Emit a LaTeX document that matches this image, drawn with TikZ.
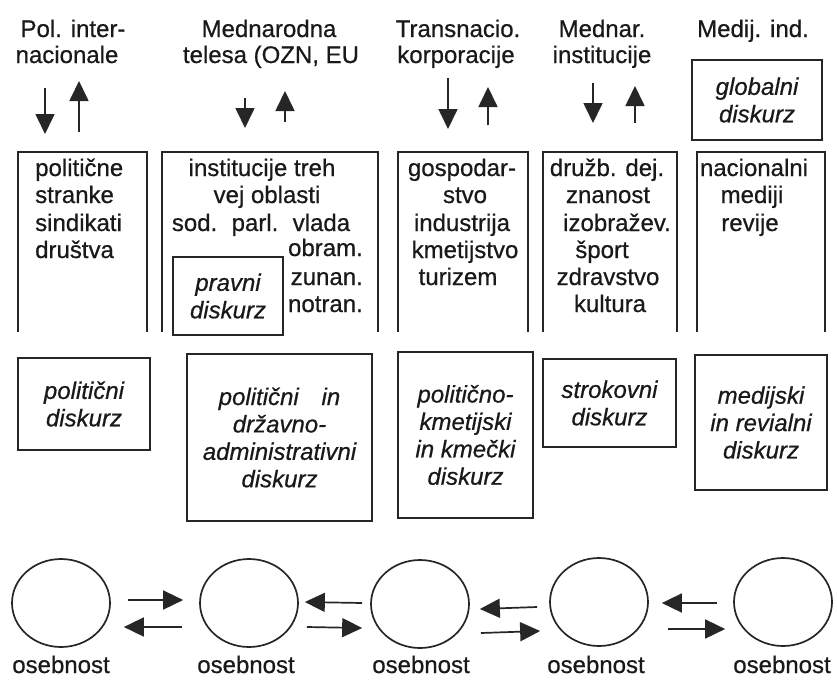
\documentclass[tikz,border=0pt]{standalone}
\usepackage{fontspec}
\setmainfont{Liberation Sans}
\usetikzlibrary{arrows.meta,shapes.geometric,calc}
\newcommand\fsz{\fontsize{24}{27.4}\selectfont\addfontfeatures{FakeBold=0.6}}
\begin{document}
\begin{tikzpicture}[x=1pt,y=-1pt,
  ln/.style={line width=1.7pt, draw=black!85},
  arr/.style={ln, -{Triangle[length=20pt,width=19pt]}},
  txt/.style={font=\fsz, anchor=base, inner sep=0pt, text=black!90},
  dbox/.style={ln, font=\itshape\fsz, align=center, inner sep=0pt, text=black!90},
  pers/.style={ln, ellipse, minimum width=98pt, minimum height=88pt, inner sep=0pt}]
\useasboundingbox[fill=white] (0,0) rectangle (837,680);

% top labels
\node[txt] (t1a) at (73,37) {Pol. inter-};
\node[txt] (t1b) at (67,63) {nacionale};
\node[txt] (t2a) at (269,37) {Mednarodna};
\node[txt] (t2b) at (271,63) {telesa (OZN, EU};
\node[txt] (t3a) at (458,37) {Transnacio.};
\node[txt] (t3b) at (456,63) {korporacije};
\node[txt] (t4a) at (602,37) {Mednar.};
\node[txt] (t4b) at (602,63) {institucije};
\node[txt] (t5a) at (753,37) {Medij. ind.};
\node[dbox, minimum width=130pt, minimum height=80pt] (glob) at (757,100) {globalni\\diskurz};

% vertical arrows
\coordinate (a1d) at (45,88);  \coordinate (a1e) at (45,134);
\coordinate (a1u) at (79,132); \coordinate (a1v) at (79,81);
\coordinate (a2d) at (245,98); \coordinate (a2e) at (245,128);
\coordinate (a2u) at (285,122); \coordinate (a2v) at (285,91);
\coordinate (a3d) at (448,78); \coordinate (a3e) at (448,129);
\coordinate (a3u) at (488,125); \coordinate (a3v) at (488,87);
\coordinate (a4d) at (593,83); \coordinate (a4e) at (593,123);
\coordinate (a4u) at (635,123); \coordinate (a4v) at (635,86);
\draw[arr] (a1d) -- (a1e);
\draw[arr] (a1u) -- (a1v);
\draw[arr] (a2d) -- (a2e);
\draw[arr] (a2u) -- (a2v);
\draw[arr] (a3d) -- (a3e);
\draw[arr] (a3u) -- (a3v);
\draw[arr] (a4d) -- (a4e);
\draw[arr] (a4u) -- (a4v);

% row 2 open boxes
\draw[ln] (18,332) |- (147,152) -- (147,332);
\draw[ln] (162,332) |- (378,152) -- (378,332);
\draw[ln] (398,332) |- (528,152) -- (528,332);
\draw[ln] (543,332) |- (677,152) -- (677,332);
\draw[ln] (697,332) |- (825,152) -- (825,332);

% box 1 text
\node[txt, anchor=base west] (b1a) at (35,176) {politične};
\node[txt, anchor=base west] (b1b) at (35,203) {stranke};
\node[txt, anchor=base west] (b1c) at (35,231) {sindikati};
\node[txt, anchor=base west] (b1d) at (35,258) {društva};

% box 2 text
\node[txt] (b2a) at (262,176) {institucije treh};
\node[txt] (b2b) at (267,203) {vej oblasti};
\node[txt] (b2c) at (261,231) {sod.\hspace{0.6em}parl.\hspace{0.6em}vlada};
\node[txt, anchor=base east] (b2d) at (363,256) {obram.};
\node[txt, anchor=base east] (b2e) at (363,285) {zunan.};
\node[txt, anchor=base east] (b2f) at (363,312) {notran.};
\node[dbox, minimum width=110pt, minimum height=78pt] (prav) at (228,296) {pravni\\diskurz};

% box 3 text
\node[txt] (b3a) at (462,176) {gospodar-};
\node[txt] (b3b) at (465,203) {stvo};
\node[txt] (b3c) at (462,231) {industrija};
\node[txt] (b3d) at (465,258) {kmetijstvo};
\node[txt] (b3e) at (458,285) {turizem};

% box 4 text
\node[txt] (b4a) at (607,176) {družb. dej.};
\node[txt] (b4b) at (608,203) {znanost};
\node[txt] (b4c) at (617,231) {izobražev.};
\node[txt] (b4d) at (602,258) {šport};
\node[txt] (b4e) at (608,285) {zdravstvo};
\node[txt] (b4f) at (610,312) {kultura};

% box 5 text
\node[txt] (b5a) at (754,176) {nacionalni};
\node[txt] (b5b) at (752,203) {mediji};
\node[txt] (b5c) at (750,231) {revije};

% row 3 discourse boxes
\node[dbox, minimum width=132pt, minimum height=92pt] (d1) at (84,404) {politični\\diskurz};
\node[dbox, minimum width=185pt, minimum height=167pt] (d2) at (279.5,437.5) {politični\hspace{0.95em}in\\državno-\\administrativni\\diskurz};
\node[dbox, minimum width=135pt, minimum height=166pt] (d3) at (465.5,435) {politično-\\kmetijski\\in kmečki\\diskurz};
\node[dbox, minimum width=133pt, minimum height=88pt] (d4) at (609.5,403) {strokovni\\diskurz};
\node[dbox, minimum width=132pt, minimum height=135pt] (d5) at (761,422.5) {medijski\\in revialni\\diskurz};

% persons
\node[pers] (c1) at (61,603) {};
\node[pers] (c2) at (249,603) {};
\node[pers] (c3) at (420,604) {};
\node[pers] (c4) at (599,602) {};
\node[pers] (c5) at (783,602) {};
\node[txt] (o1) at (61,673) {osebnost};
\node[txt] (o2) at (246,673) {osebnost};
\node[txt] (o3) at (421,673) {osebnost};
\node[txt] (o4) at (596,673) {osebnost};
\node[txt] (o5) at (782,673) {osebnost};

% horizontal arrows
\draw[arr] ($(c1.east)+(17,-3)$) -- ($(c2.west)+(-16,-3)$);
\draw[arr] ($(c2.west)+(-17,24)$) -- ($(c1.east)+(13,24)$);
\draw[arr] ($(c3.west)+(-8,-1)$) -- ($(c2.east)+(6,-1)$);
\draw[arr] ($(c2.east)+(8,24)$) -- ($(c3.west)+(-8,24)$);
\draw[arr] ($(c4.west)+(-12,5)$) -- ($(c3.east)+(10,5)$);
\draw[arr] ($(c3.east)+(11,29)$) -- ($(c4.west)+(-9,29)$);
\draw[arr] ($(c5.west)+(-16,1)$) -- ($(c4.east)+(13,1)$);
\draw[arr] ($(c4.east)+(19,27)$) -- ($(c5.west)+(-8,27)$);
\end{tikzpicture}
\end{document}
